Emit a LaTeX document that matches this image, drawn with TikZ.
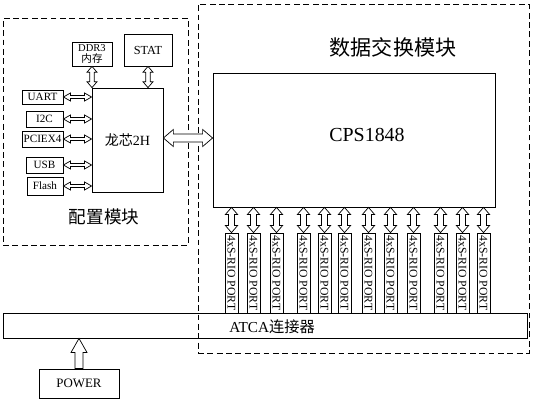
\documentclass[tikz,border=0pt]{standalone}
\usepackage{fontspec}
\setmainfont{Liberation Serif}
\newfontfamily\cjk{Noto Sans CJK SC}
\usetikzlibrary{calc}

\tikzset{
  box/.style={draw, line width=0.7pt, inner sep=0pt},
  zone/.style={draw, line width=0.7pt, dash pattern=on 5pt off 3pt, inner sep=0pt},
  sz/.style 2 args={minimum width=#1*0.03cm, minimum height=#2*0.03cm},
  arr/.style={draw, line width=0.6pt, fill=white},
  small/.style={font=\fontsize{9.5}{10}\selectfont},
}

% hollow double arrow, left to right: #3 half shaft, #4 half head, #5 head length
\newcommand\twowayh[5]{%
  \draw[arr] let \p1=#1, \p2=#2 in
    (\x1,\y1) -- (\x1+#5,\y1+#4) -- (\x1+#5,\y1+#3) -- (\x2-#5,\y1+#3)
    -- (\x2-#5,\y1+#4) -- (\x2,\y1) -- (\x2-#5,\y1-#4) -- (\x2-#5,\y1-#3)
    -- (\x1+#5,\y1-#3) -- (\x1+#5,\y1-#4) -- cycle;}
% hollow double arrow, top to bottom
\newcommand\twowayv[5]{%
  \draw[arr] let \p1=#1, \p2=#2 in
    (\x1,\y1) -- (\x1+#4,\y1-#5) -- (\x1+#3,\y1-#5) -- (\x1+#3,\y2+#5)
    -- (\x1+#4,\y2+#5) -- (\x1,\y2) -- (\x1-#4,\y2+#5) -- (\x1-#3,\y2+#5)
    -- (\x1-#3,\y1-#5) -- (\x1-#4,\y1-#5) -- cycle;}
% hollow single arrow, bottom to top
\newcommand\oneway[5]{%
  \draw[arr] let \p1=#1, \p2=#2 in
    (\x1-#3,\y1) -- (\x1-#3,\y2-#5) -- (\x1-#4,\y2-#5) -- (\x1,\y2)
    -- (\x1+#4,\y2-#5) -- (\x1+#3,\y2-#5) -- (\x1+#3,\y1) -- cycle;}

\begin{document}
\begin{tikzpicture}[x=0.03cm,y=-0.03cm]
\useasboundingbox (0,0) rectangle (533,401);

% configuration module
\node[zone, sz={185}{227}] (cfg) at (95.5,131.5) {};
\node[font=\cjk\fontsize{15}{15}\selectfont] (cfgt) at (104,217) {配置模块};
\node[box, sz={71}{104}, font=\fontsize{12}{12}\selectfont] (ls) at (127.5,140) {{\cjk 龙芯}2H};
\node[box, sz={40}{24}, align=center, font=\fontsize{9}{9.5}\selectfont] (ddr) at (92,54) {DDR3\\{\cjk 内存}};
\node[box, sz={48}{32}, font=\fontsize{10.5}{11}\selectfont] (stat) at (148,50) {STAT};
\node[box, sz={41}{14}, small] (uart) at (42.5,97) {UART};
\node[box, sz={37}{16}, small] (i2c) at (44.5,119) {I2C};
\node[box, sz={41}{16}, small] (pcie) at (42.5,139) {PCIEX4};
\node[box, sz={37}{16}, small] (usb) at (44.5,165) {USB};
\node[box, sz={36}{18}, small] (flash) at (45,186) {Flash};

\twowayv{(ddr.south)}{(ddr.south |- ls.north)}{2pt}{4.3pt}{5pt};
\twowayv{(stat.south)}{(stat.south |- ls.north)}{2pt}{4.3pt}{5pt};
\foreach \dev in {uart,i2c,pcie,usb,flash}
  \twowayh{(\dev.east)}{(\dev.east -| ls.west)}{1.3pt}{3.4pt}{6pt};

% switching module
\node[zone, sz={331}{349}] (sw) at (363.5,178.5) {};
\node[font=\cjk\fontsize{18}{18}\selectfont] (swt) at (393,47) {数据交换模块};
\node[box, sz={282}{134}] (cps) at (354,140) {};
\node[font=\fontsize{17}{17}\selectfont] (cpst) at (367,135) {CPS1848};

\twowayh{(ls.east |- 0,138)}{(cps.west |- 0,138)}{3.4pt}{7.3pt}{8.5pt};

\foreach \pos [count=\i] in {225,247,270,297,318,338,362,384,407,434,456,477}{
  \node[box, sz={13}{80}, font=\fontsize{10}{10}\selectfont]
    (p\i) at (\pos+6.5,273) {\rotatebox{-90}{4xS-RIO PORT}};
  \twowayv{(p\i.north |- cps.south)}{(p\i.north)}{2.6pt}{5.2pt}{6pt};
}

% backplane
\node[box, sz={524}{25}] (atca) at (265,325.5) {};
\node[font=\fontsize{13}{13}\selectfont] (atcat) at (272,327) {ATCA{\cjk 连接器}};
\node[box, sz={80}{29}, font=\fontsize{11}{11}\selectfont] (pwr) at (79,383.5) {POWER};
\oneway{(pwr.north)}{(pwr.north |- atca.south)}{3.4pt}{6.8pt}{12pt};
\end{tikzpicture}
\end{document}
